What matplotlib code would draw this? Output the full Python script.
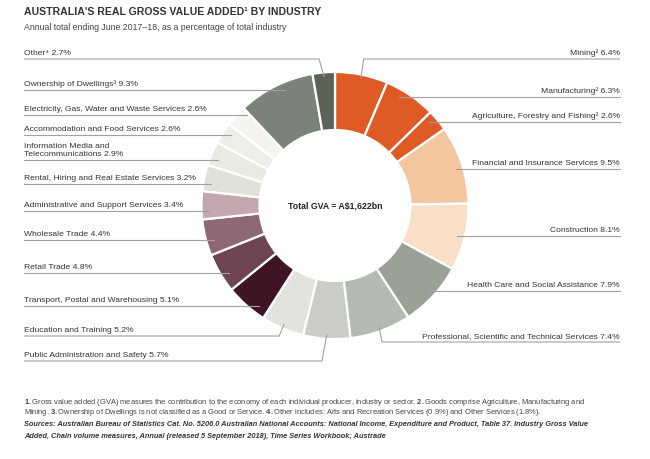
import matplotlib
matplotlib.use("Agg")
import matplotlib.pyplot as plt
import numpy as np

# ---------------- data ----------------
categories = [
    "Mining", "Manufacturing", "Agriculture, Forestry and Fishing",
    "Financial and Insurance Services", "Construction",
    "Health Care and Social Assistance",
    "Professional, Scientific and Technical Services",
    "Public Administration and Safety", "Education and Training",
    "Transport, Postal and Warehousing", "Retail Trade", "Wholesale Trade",
    "Administrative and Support Services",
    "Rental, Hiring and Real Estate Services",
    "Information Media and\nTelecommunications",
    "Accommodation and Food Services",
    "Electricity, Gas, Water and Waste Services",
    "Ownership of Dwellings", "Other",
]
shares = [6.4, 6.3, 2.6, 9.5, 8.1, 7.9, 7.4, 5.7, 5.2, 5.1, 4.8, 4.4, 3.4,
          3.2, 2.9, 2.6, 2.6, 9.3, 2.7]
note_marks = ["²", "²", "²", "", "", "", "", "", "", "", "", "", "", "", "",
              "", "", "³", "⁴"]
total_text = "Total GVA = A\\$1,622bn"

# ---------------- style / layout ----------------
colors = ["#E05A26", "#E05A26", "#E05A26", "#F3C6A0", "#F9DFC8", "#9AA298",
          "#B4BBB2", "#C9CDC6", "#E2E3DE", "#3F1526", "#6F4452", "#8D6874",
          "#C2A8AE", "#E2E1D8", "#EAE9E2", "#EEEDE8", "#F5F4F0", "#7B8279",
          "#5B6359"]
sides = ["R"] * 7 + ["L"] * 12
line_y = [59, 97, 122, 169, 236, 291, 342,
          361, 336, 306, 273, 240, 211, 184, 160, 135, 115, 90, 59]
elbow = {0, 6, 7, 8, 18}

W, H = 650, 459
CX, CY, R, RW = 335, 205.5, 133.5, 58
TXT = "#333333"
LINE = "#A0A0A0"
FAM = ["Liberation Sans", "DejaVu Sans"]

plt.rcParams["font.family"] = FAM
plt.rcParams["mathtext.fontset"] = "custom"
plt.rcParams["mathtext.rm"] = "Liberation Sans"
plt.rcParams["mathtext.bf"] = "Liberation Sans:bold"


def fy(y):
    return H - y


fig = plt.figure(figsize=(W / 100, H / 100), dpi=100)
ax = fig.add_axes([0, 0, 1, 1])

ax.pie(shares, colors=colors, startangle=90, counterclock=False,
       center=(CX, fy(CY)), radius=R,
       wedgeprops=dict(width=RW, edgecolor="white", linewidth=1.6))
ax.set_xlim(0, W)
ax.set_ylim(0, H)
ax.set_aspect("equal")
ax.axis("off")

tot = sum(shares)
cum = np.cumsum([0] + shares[:-1])
R_END = 126
for i, (cat, v) in enumerate(zip(categories, shares)):
    ly = line_y[i]
    theta = np.deg2rad(90 - 360 * (cum[i] + v / 2) / tot)
    label = f"{cat}{note_marks[i]} {v}%"
    if i in elbow:
        ax_ = CX + 129 * np.cos(theta)
        ay_ = CY - 129 * np.sin(theta)
        if sides[i] == "L":
            hx = ax_ - 5
            xs = [24, hx, ax_]
        else:
            hx = ax_ + 3
            xs = [620, hx, ax_]
        ax.plot(xs, [fy(ly), fy(ly), fy(ay_)], color=LINE, lw=0.8,
                solid_capstyle="butt", zorder=1)
    else:
        dy = ly - CY
        dx = np.sqrt(max(R_END ** 2 - dy ** 2, 0))
        if sides[i] == "L":
            ax.plot([24, CX - dx], [fy(ly), fy(ly)], color=LINE, lw=0.8, zorder=3)
        else:
            ax.plot([CX + dx, 620], [fy(ly), fy(ly)], color=LINE, lw=0.8, zorder=3)
    if sides[i] == "L":
        ax.text(24, fy(ly - 2), label, ha="left", va="bottom", fontsize=6.1,
                color=TXT, linespacing=1.3)
    else:
        ax.text(620, fy(ly - 2), label, ha="right", va="bottom", fontsize=6.1,
                color=TXT)

ax.text(CX, fy(CY + 1), total_text, ha="center", va="center", fontsize=6.3,
        fontweight="bold", color="#222222")

# titles
fig.text(24 / W, 1 - 12 / H, "AUSTRALIA'S REAL GROSS VALUE ADDED¹ BY INDUSTRY",
         ha="left", va="center", fontsize=7.6, fontweight="bold", color="#333333")
fig.text(24 / W, 1 - 27 / H,
         "Annual total ending June 2017–18, as a percentage of total industry",
         ha="left", va="center", fontsize=6.3, color="#444444")

# footnotes
fn1 = (r"$\mathbf{1.}$Gross value added (GVA) measures the contribution to the economy of each "
       r"individual producer, industry or sector. $\mathbf{2.}$Goods comprise Agriculture, Manufacturing and")
fn2 = (r"Mining. $\mathbf{3.}$Ownership of Dwellings is not classified as a Good or Service. "
       r"$\mathbf{4.}$Other includes: Arts and Recreation Services (0.9%) and Other Services (1.8%).")
src1 = ("Sources: Australian Bureau of Statistics Cat. No. 5206.0 Australian National Accounts: "
        "National Income, Expenditure and Product, Table 37. Industry Gross Value")
src2 = ("Added, Chain volume measures, Annual (released 5 September 2018), "
        "Time Series Workbook; Austrade")
fig.text(24 / W, 1 - 403 / H, fn1, ha="left", va="center", fontsize=5.45, color="#444444")
fig.text(24 / W, 1 - 413 / H, fn2, ha="left", va="center", fontsize=5.45, color="#444444")
fig.text(24 / W, 1 - 424 / H, src1, ha="left", va="center", fontsize=5.35,
         color="#333333", fontweight="bold", fontstyle="italic")
fig.text(24 / W, 1 - 436 / H, src2, ha="left", va="center", fontsize=5.35,
         color="#333333", fontweight="bold", fontstyle="italic")

fig.savefig("out.png", dpi=100, facecolor="white")
